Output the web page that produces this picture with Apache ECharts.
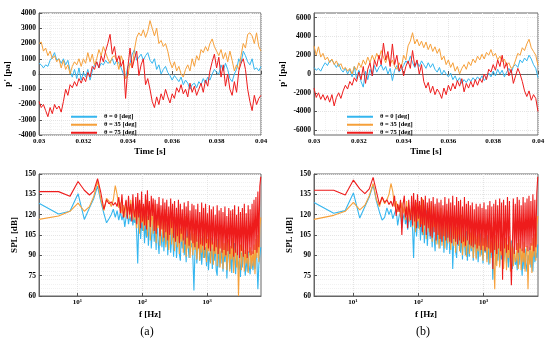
<!DOCTYPE html>
<html><head><meta charset="utf-8">
<script src="https://cdn.jsdelivr.net/npm/echarts@6/dist/echarts.min.js"></script>
<style>html,body{margin:0;padding:0;background:#fff}#c{width:550px;height:344px}</style>
</head><body><div id="c"></div>
<script>
const FONT = 'Liberation Serif';
const seriesNames = ['θ = 0 [deg]', 'θ = 35 [deg]', 'θ = 75 [deg]'];
const seriesColors = ['#35b6ef', '#f6a03a', '#ee1c1c'];

// time axis: 0.030 .. 0.040 s, step 0.0001 s
const T_START = 0.03, T_STEP = 0.0001, T_COUNT = 101;

// (a) pressure fluctuation p' [pa]
const pA0 = [700,600,400,600,500, 900,1100,1400,900,1000, 700,1000,600,900,200, -200,300,-300,400,-400, 100,-200,300,-400,200, 600,800,400,700,600, 900,700,800,1000,600, 900,700,400,0,-300, 500,700,1300,1600,900, 1100,1300,900,1200,1400, 900,700,1000,300,600, 0,300,500,100,-100, -400,-100,-300,-500,-200, -700,-400,-600,-1000,-700, -600,-900,-500,-700,-300, -600,-200,-400,0,300, 100,0,600,200,700, 300,-300,-500,0,300, 1000,700,1500,1200,800, 600,1000,300,400,200, 500];
const pA35 = [2000,2100,1500,1700,1200, 1500,1000,1200,800,1000, 400,900,300,600,0, 500,800,600,1000,500, 1000,700,1400,800,1300, 600,1000,1600,1200,1800, 1400,1000,700,1100,1200, 900,300,1200,800,-300, -100,700,400,1600,2400, 2700,2500,2900,2400,2800, 3500,3000,2500,3000,2000, 2200,1800,2000,1500,800, 400,800,200,500,0, -200,300,600,200,1000, 500,1200,900,1600,1400, 1800,1500,2000,2300,1800, 1500,1200,1600,1000,1400, 800,1500,900,200,600, 300,1200,2000,1700,2600, 2700,2500,2000,2700,1800, 1500];
const pA75 = [-1800,-2200,-2000,-2400,-2800, -2200,-2600,-2000,-2300,-2100, -2500,-1800,-1000,-1400,-700, -900,-500,-800,-300,-600, -200,-500,100,-200,500, 300,800,400,1200,800, 1500,2000,2600,1300,1800, 800,1200,500,900,-1600, 400,1700,400,1000,1500, -100,600,1000,-700,-300, -1000,-1800,-2200,-1500,-2000, -1300,-1700,-1000,-1500,-1900, -1300,-1600,-900,-1200,-700, -1300,-1000,-1500,-600,-1200, -800,-1400,-1000,-600,-1200, -400,-800,200,800,1300, 400,1100,-200,600,-800, 0,-1000,-1400,-500,-1200, 200,700,1000,300,-1000, -1800,-2400,-1400,-2000,-1600, -1400];

// (b) pressure fluctuation p' [pa]
const pB0 = [700,400,600,300,800, 1200,900,1400,1500,1100, 700,1100,500,200,600, 0,500,-300,800,-500, 400,-800,-1400,300,-600, 500,-200,900,200,700, 1000,400,800,0,600, -700,400,900,200,500, 900,1400,1100,1900,1200, 700,1300,800,1400,1000, 600,1200,700,1100,500, 200,700,-100,400,0, -300,100,-600,-200,-800, -400,-1000,-600,-900,-500, -800,-400,-700,-300,-600, -200,-700,-400,100,-300, 300,-200,500,0,400, -300,200,600,100,800, 1000,700,1500,1200,1700, 1400,2000,1600,1000,600, -400];
const pB35 = [3000,2000,2900,1800,2200, 1500,1800,1200,1600,1000, 1400,800,1100,500,700, 300,600,0,800,400, 1200,700,1500,1000,1800, 1200,2000,1400,2200,1600, 2500,1800,1200,2000,1000, 1500,800,500,1200,700, 2000,1500,3000,3500,4400, 3200,3700,3000,3500,2800, 3400,2600,3200,2400,2900, 2200,2700,1500,1900,1000, 1500,700,1200,300,800, 0,600,1000,500,1300, 900,1600,1200,1900,1500, 2100,1600,2300,2000,2600, 1900,2200,1500,1900,1300, 1600,900,1200,600,800, 1500,2200,2000,2800,2500, 3200,3700,2800,2400,2000, 900];
const pB75 = [-1500,-2500,-2000,-2700,-2200, -2800,-2300,-3000,-2200,-3400, -2500,-2000,-2600,-1800,-1200, -1600,-800,-1200,-400,-800, 200,-600,800,-1000,500, 1200,-200,1500,800,2000, 1000,3300,1500,2400,800, 3200,1000,2000,300,1000, -200,800,1400,600,2500, 800,1500,0,1000,-800, -1500,-900,-2000,-1300,-2200, -1600,-2000,-2600,-1500,-2200, -1200,-1800,-1000,-1600,-700, -1300,-500,-1900,-1000,-1500, -800,-1400,-600,-1200,-500, -900,0,-600,500,200, 1000,400,1500,800,2000, 600,1200,-200,500,-1000, -200,600,0,-800,-1800, -2400,-1800,-2800,-2200,-2600, -4000];

// spectra: FFT bins, df = 2.55 Hz; bins 1..30 then a log-spaced subset of bins
const DF = 2.55, LOW_BINS = 30, HIGH_GROWTH = 1.035, HIGH_COUNT = 130;

// (a) SPL [dB]
const sA0 = [128.5,120.5,122.5,135.5,116.5,125,132,141,129.5,121, 114,117,120,124,118,123,116,122, 116,120,111,118,122,113,119,115,121,112,118,114,
 118,105,84,112,120,102,115,108,121,99, 114,103,119,97,110,121,95,107,116,100, 112,94,118,101,91,114,105,96,117,93, 108,98,113,90,104,116,92,101,111,89, 105,114,88,99,110,91,86,107,95,112, 90,103,85,109,97,88,106,96,99,87, 64,91,108,84,97,105,86,100,83,94, 104,88,96,82,101,79,92,85,103,80, 95,86,99,79,75,102,81,93,84,97, 78,91,85,100,73,88,96,80,92,77, 94,83,99,76,89,95,79,86,74,92, 81,97,85,75,90,78,93,82,76,88, 84,79,91,80,95,86,65,83,90,96];
const sA35 = [116.5,119,122.5,128.5,122.5,126,133.5,144.5,131,123, 132,130,126,131,141.5,135,125,129, 121,127,118,130,122,126,117,131,121,128,116,124,
 125,110,130,117,106,128,114,120,108,126, 112,131,104,119,127,101,115,124,106,118, 128,99,116,110,125,97,113,121,100,109, 124,96,112,119,94,107,122,98,115,103, 93,118,105,96,120,91,110,100,117,92, 108,119,89,104,95,114,88,101,116,90, 106,94,113,87,99,111,86,103,92,115, 88,98,109,85,102,93,112,84,97,106, 83,100,91,110,82,96,104,81,94,108, 80,99,89,105,79,93,102,78,97,87, 103,77,92,100,81,95,60,86,98,79, 91,101,78,94,84,99,77,90,96,80, 93,82,98,76,102,88,105,85,110,118];
const sA75 = [137,137,133.5,144.5,138,134.5,137.5,146.5,136,124, 131,128,129.5,127,129,126,133,121, 135,118,125,131,117,134,120,128,115,135,122,118,
 133,113,136,118,131,110,137,115,128,112, 135,109,138,116,130,111,134,119,132,108, 131,106,128,112,133,104,127,109,132,103, 129,107,131,101,126,105,132,110,128,103, 130,100,125,104,131,99,128,106,124,101, 129,98,126,103,130,97,123,101,128,99, 127,96,124,100,128,95,122,98,129,97, 125,94,128,99,121,95,127,93,124,98, 126,93,120,96,127,91,123,95,125,92, 122,94,126,90,119,93,125,91,123,95, 124,89,127,92,120,90,126,88,122,93, 125,89,128,91,121,88,127,92,124,90, 128,91,131,94,133,92,137,96,141,148];

// (b) SPL [dB]
const sB0 = [129,121,123,136,117.5,126,133,142,130,122, 116,118,125,120,124,117,121,124, 112,119,122,110,117,121,113,118,109,116,120,111,
 120,108,88,115,122,104,117,110,123,101, 116,105,121,99,112,123,97,109,118,102, 114,96,120,103,93,116,107,98,119,95, 110,100,115,92,106,118,94,103,113,91, 107,116,80,101,112,93,88,109,97,114, 92,105,87,111,99,90,108,86,101,89, 104,93,110,86,99,107,88,102,85,96, 106,90,98,84,103,92,96,87,105,83, 97,88,101,72,92,104,83,95,86,99, 82,93,87,102,85,90,98,84,94,81, 96,85,101,80,91,97,83,88,79,94, 83,99,87,75,92,80,95,84,78,90, 86,96,81,93,78,100,85,92,88,98];
const sB35 = [116.5,119.5,122.5,129,123.5,127,134,143,131,126, 133,128,131,135,143,137,126,130, 122,127,118,129,121,126,116,130,120,127,115,123,
 126,111,131,118,107,129,115,121,109,127, 113,132,105,120,128,102,116,125,107,119, 129,100,117,111,126,98,114,122,95,110, 125,97,113,120,95,108,123,99,116,104, 94,119,106,97,121,92,111,101,118,93, 109,120,90,105,96,115,89,102,117,91, 107,95,114,88,100,112,87,104,93,116, 89,99,110,86,103,94,113,85,98,107, 84,101,92,111,83,65,105,82,95,109, 81,100,90,106,80,94,103,79,98,88, 104,78,93,101,82,96,85,87,99,80, 92,102,79,95,85,100,78,91,97,65, 94,83,99,77,103,89,106,86,111,119];
const sB75 = [138,138,134.5,145.5,139,135.5,139,147.5,137,127.5, 133,129,131,127.5,130,126,134,119, 128,122,131,105,128,134,118,126,110,131,121,116,
 134,112,136,115,131,110,135,117,130,111, 133,107,131,112,134,105,129,110,132,104, 130,103,133,107,128,101,132,105,129,102, 131,100,127,104,133,101,128,103,132,100, 129,99,134,102,127,100,133,98,130,101, 131,99,126,100,133,97,128,101,130,98, 127,97,129,96,124,98,128,95,126,97, 128,94,125,97,129,93,124,96,127,95, 130,92,126,80,128,94,131,91,127,95, 132,93,129,72,131,95,127,92,133,94, 130,93,68,96,132,91,128,94,133,92, 131,95,127,93,133,92,129,96,132,93, 134,94,130,97,135,93,131,96,136,148];

const times = Array.from({length: T_COUNT}, (_, i) => +(T_START + i * T_STEP).toFixed(4));
const freqs = [];
for (let k = 1; k <= LOW_BINS; k++) freqs.push(DF * k);
for (let j = 1; j <= HIGH_COUNT; j++) freqs.push(DF * LOW_BINS * Math.pow(HIGH_GROWTH, j));

const pair = (xs, ys) => xs.map((x, i) => [x, ys[i]]);

const labelStyle = {fontFamily: FONT, fontWeight: 'bold', color: '#000'};
const nameStyle = {fontFamily: FONT, fontWeight: 'bold', fontSize: 9, color: '#000'};
const gridLine = {show: true, lineStyle: {color: '#e4e4e4', type: 'dotted', width: 1}};
const minorLine = {show: true, lineStyle: {color: '#f1f1f1', type: 'dotted', width: 1}};
const axisLine = {show: true, lineStyle: {color: '#666'}};
const tick = {show: true, inside: true, length: 3, lineStyle: {color: '#555'}};
const plain = v => String(v);

const grids = [
  {left: 39, top: 13, width: 222, height: 122},
  {left: 314, top: 13, width: 224, height: 122},
  {left: 39, top: 174, width: 222, height: 122},
  {left: 314, top: 174, width: 224, height: 122}
].map(g => Object.assign({show: true, borderColor: '#666', borderWidth: 1, backgroundColor: '#fff'}, g));

function timeAxis(gi) {
  return {type: 'value', gridIndex: gi, min: 0.03, max: 0.04, interval: 0.002,
    name: 'Time [s]', nameLocation: 'middle', nameGap: 12, nameTextStyle: nameStyle,
    axisLine, axisTick: tick, splitLine: gridLine,
    minorTick: {show: false, splitNumber: 4}, minorSplitLine: minorLine,
    axisLabel: Object.assign({fontSize: 7, margin: 3, formatter: v => String(+v.toFixed(3))}, labelStyle)};
}
function freqAxis(gi) {
  return {type: 'log', logBase: 10, gridIndex: gi, min: 2.55, max: 6750,
    name: 'f [Hz]', nameLocation: 'middle', nameGap: 14, nameTextStyle: nameStyle,
    axisLine, axisTick: Object.assign({customValues: [10, 100, 1000]}, tick),
    splitLine: gridLine,
    axisLabel: {customValues: [10, 100, 1000], margin: 2,
      formatter: v => '{a|10}{e|' + Math.round(Math.log10(v)) + '}',
      rich: {a: Object.assign({fontSize: 7}, labelStyle), e: Object.assign({fontSize: 4.5, verticalAlign: 'top', padding: [0, 0, 4, 0]}, labelStyle)}}};
}

const option = {
  animation: false,
  backgroundColor: '#fff',
  grid: grids,
  xAxis: [timeAxis(0), timeAxis(1), freqAxis(2), freqAxis(3)],
  yAxis: [
    {type: 'value', gridIndex: 0, min: -4000, max: 4000, interval: 1000,
     name: "p' [pa]", nameLocation: 'middle', nameGap: 27, nameTextStyle: nameStyle,
     axisLine, axisTick: tick, splitLine: gridLine, minorSplitLine: minorLine,
     axisLabel: Object.assign({fontSize: 7.5, margin: 3, formatter: plain}, labelStyle)},
    {type: 'value', gridIndex: 1, min: -6500, max: 6500,
     name: "p' [pa]", nameLocation: 'middle', nameGap: 27, nameTextStyle: nameStyle,
     axisLine, axisTick: Object.assign({customValues: [-6000,-4000,-2000,0,2000,4000,6000]}, tick), splitLine: gridLine,
     axisLabel: Object.assign({fontSize: 7.5, margin: 3, formatter: plain, customValues: [-6000,-4000,-2000,0,2000,4000,6000]}, labelStyle)},
    {type: 'value', gridIndex: 2, min: 60, max: 150, interval: 15,
     name: 'SPL [dB]', nameLocation: 'middle', nameGap: 20, nameTextStyle: nameStyle,
     axisLine, axisTick: tick, splitLine: gridLine, minorSplitLine: minorLine,
     axisLabel: Object.assign({fontSize: 7.5, margin: 3, formatter: plain}, labelStyle)},
    {type: 'value', gridIndex: 3, min: 60, max: 150, interval: 15,
     name: 'SPL [dB]', nameLocation: 'middle', nameGap: 20, nameTextStyle: nameStyle,
     axisLine, axisTick: tick, splitLine: gridLine, minorSplitLine: minorLine,
     axisLabel: Object.assign({fontSize: 7.5, margin: 3, formatter: plain}, labelStyle)}
  ],
  legend: [66, 342].map(left => ({
    data: seriesNames, left, top: 108, orient: 'vertical', icon: 'rect',
    itemWidth: 26, itemHeight: 2, itemGap: 0.5, selectedMode: false,
    textStyle: {fontFamily: FONT, fontWeight: 'bold', fontSize: 6.5, lineHeight: 7.5, color: '#000', padding: [0, 0, 0, 2]}
  })),
  series: [],
  graphic: [
    {type: 'text', x: 147, y: 332, style: {text: '(a)', fontFamily: FONT, fontSize: 12, fill: '#000', align: 'center', verticalAlign: 'middle'}},
    {type: 'text', x: 423, y: 332, style: {text: '(b)', fontFamily: FONT, fontSize: 12, fill: '#000', align: 'center', verticalAlign: 'middle'}}
  ]
};

const groups = [
  {gi: 0, xs: times, ys: [pA0, pA35, pA75], w: 1},
  {gi: 1, xs: times, ys: [pB0, pB35, pB75], w: 1},
  {gi: 2, xs: freqs, ys: [sA0, sA35, sA75], w: 1.1},
  {gi: 3, xs: freqs, ys: [sB0, sB35, sB75], w: 1.1}
];
groups.forEach(g => g.ys.forEach((ys, si) => {
  option.series.push({
    name: seriesNames[si], type: 'line', xAxisIndex: g.gi, yAxisIndex: g.gi,
    data: pair(g.xs, ys), showSymbol: false, symbol: 'none', clip: true,
    lineStyle: {width: g.w, color: seriesColors[si]}, itemStyle: {color: seriesColors[si]}
  });
}));

const chart = echarts.init(document.getElementById('c'), null, {renderer: 'canvas'});
chart.setOption(option);
</script></body></html>
